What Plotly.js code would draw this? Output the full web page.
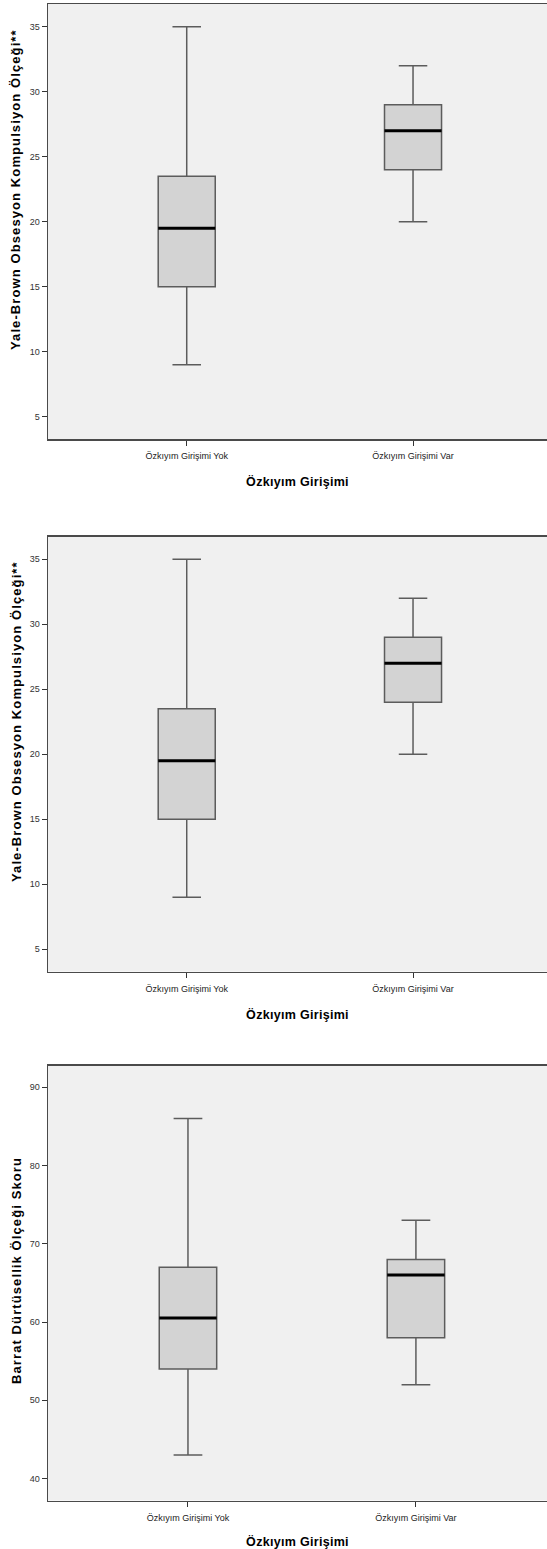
<!DOCTYPE html>
<html><head><meta charset="utf-8">
<script src="https://cdn.plot.ly/plotly-3.0.1.min.js"></script>
<style>html,body{margin:0;padding:0;background:#fff;overflow:hidden}
.annotation-text{letter-spacing:1.1px}
.g-xtitle text,.g-x2title text,.g-x3title text{letter-spacing:0.3px}</style>
</head><body><div id="chart" style="width:547px;height:1549px"></div>
<script>
const categories = ['Özkıyım Girişimi Yok', 'Özkıyım Girişimi Var'];
const ybocsLower = [9, 20];
const ybocsQ1 = [15, 24];
const ybocsMedian = [19.5, 27];
const ybocsQ3 = [23.5, 29];
const ybocsUpper = [35, 32];
const barrattLower = [43, 52];
const barrattQ1 = [54, 58];
const barrattMedian = [60.5, 66];
const barrattQ3 = [67, 68];
const barrattUpper = [86, 73];
const yTicksYbocs = [5, 10, 15, 20, 25, 30, 35];
const yTicksBarratt = [40, 50, 60, 70, 80, 90];
const xTitle = 'Özkıyım Girişimi';
const yTitleYbocs = 'Yale-Brown Obsesyon Kompulsiyon Ölçeği**';
const yTitleBarratt = 'Barrat Dürtüsellik Ölçeği Skoru';

const H = 1549;
const FONT = 'Liberation Sans, Arial, sans-serif';
const BOXW = 0.252;
function dom(top, bottom) { return [(H - bottom) / H, (H - top) / H]; }

const panels = [
  {lower: ybocsLower, q1: ybocsQ1, med: ybocsMedian, q3: ybocsQ3, upper: ybocsUpper,
   ticks: yTicksYbocs, yrange: [3.28, 36.75], top: 4, bottom: 439, xrange: [-0.613, 1.592], ytitle: yTitleYbocs, ytc: 190},
  {lower: ybocsLower, q1: ybocsQ1, med: ybocsMedian, q3: ybocsQ3, upper: ybocsUpper,
   ticks: yTicksYbocs, yrange: [3.28, 36.75], top: 536.6, bottom: 971.6, xrange: [-0.613, 1.592], ytitle: yTitleYbocs, ytc: 722},
  {lower: barrattLower, q1: barrattQ1, med: barrattMedian, q3: barrattQ3, upper: barrattUpper,
   ticks: yTicksBarratt, yrange: [37.2, 92.77], top: 1065.5, bottom: 1500.5, xrange: [-0.614, 1.575], ytitle: yTitleBarratt, ytc: 1271}
];

const data = [];
const shapes = [];
const annotations = [];
const layout = {
  width: 547, height: H,
  margin: {l: 48, r: 0, t: 0, b: 0, pad: 0},
  paper_bgcolor: '#ffffff',
  plot_bgcolor: '#f0f0f0',
  showlegend: false,
  font: {family: FONT, color: '#222'}
};

panels.forEach((p, k) => {
  const n = k + 1;
  const xa = n === 1 ? 'x' : 'x' + n;
  const ya = n === 1 ? 'y' : 'y' + n;
  data.push({
    type: 'box', x: categories, q1: p.q1, median: p.med, q3: p.q3,
    lowerfence: p.lower, upperfence: p.upper,
    boxpoints: false, width: BOXW, whiskerwidth: 0.5,
    fillcolor: '#d3d3d3', line: {color: '#5c5c5c', width: 1.5},
    xaxis: xa, yaxis: ya, hoverinfo: 'skip'
  });
  p.med.forEach((m, i) => {
    shapes.push({type: 'line', xref: xa, yref: ya, x0: i - BOXW / 2, x1: i + BOXW / 2, y0: m, y1: m,
      line: {color: '#000', width: 3}});
  });
  layout[n === 1 ? 'xaxis' : 'xaxis' + n] = {
    domain: [0, 1], anchor: ya, type: 'category', range: p.xrange,
    showline: true, mirror: true, linecolor: '#4a4a4a', linewidth: 1.5,
    ticks: 'outside', ticklen: 5, tickwidth: 1, tickcolor: '#333', ticklabelstandoff: 3,
    tickfont: {family: FONT, size: 9, color: '#222'},
    showgrid: false, zeroline: false, automargin: false, fixedrange: true,
    title: {text: '<b>' + xTitle + '</b>', font: {family: FONT, size: 12.5, color: '#000'}, standoff: 17}
  };
  layout[n === 1 ? 'yaxis' : 'yaxis' + n] = {
    domain: dom(p.top, p.bottom), anchor: xa, range: p.yrange,
    tickmode: 'array', tickvals: p.ticks,
    showline: true, mirror: true, linecolor: '#4a4a4a', linewidth: 1.5,
    ticks: 'outside', ticklen: 5, tickwidth: 1, tickcolor: '#333',
    tickfont: {family: FONT, size: 9, color: '#333'},
    showgrid: false, zeroline: false, automargin: false, fixedrange: true
  };
  annotations.push({
    text: '<b>' + p.ytitle + '</b>', textangle: -90,
    xref: 'paper', yref: 'paper', x: 0, xshift: -32, xanchor: 'center', yanchor: 'middle',
    y: (H - p.ytc) / H, showarrow: false,
    font: {family: FONT, size: 13, color: '#000'}
  });
});
layout.shapes = shapes;
layout.annotations = annotations;

Plotly.newPlot('chart', data, layout, {displayModeBar: false, staticPlot: true});
</script>
</body></html>
